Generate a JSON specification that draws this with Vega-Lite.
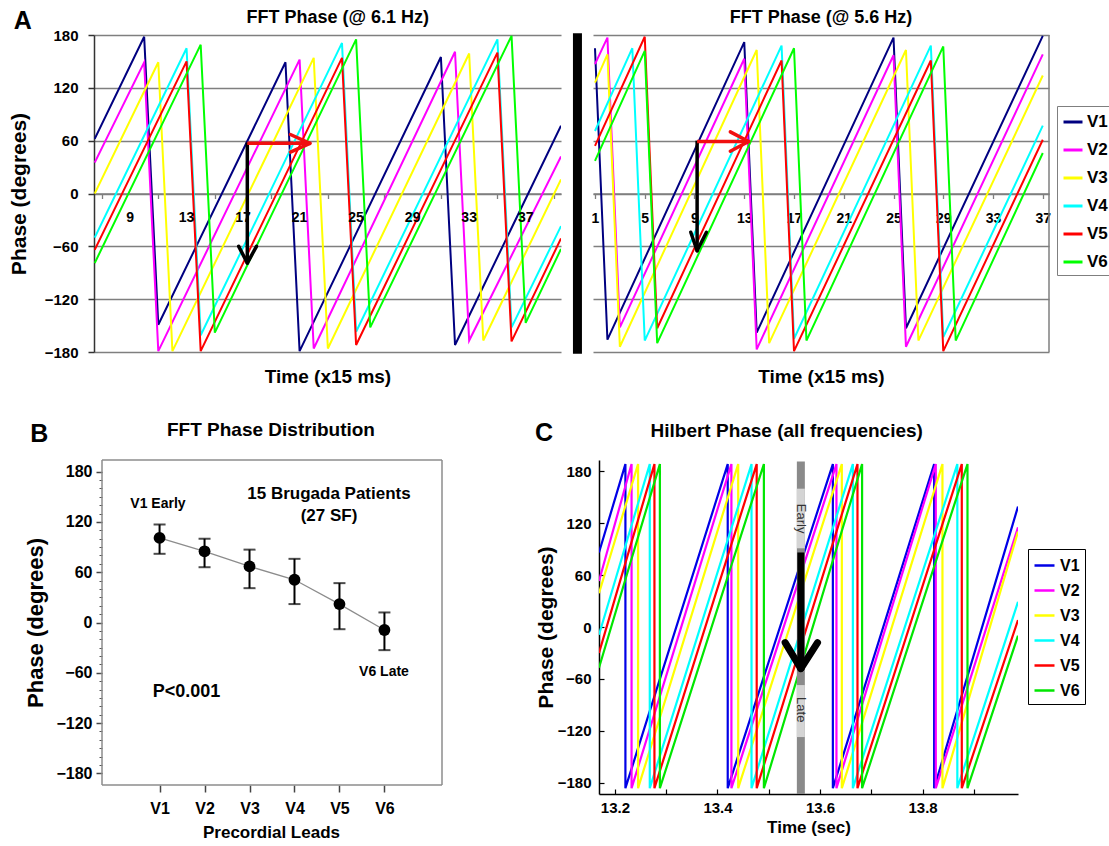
{
  "$schema": "https://vega.github.io/schema/vega-lite/v6.json",
  "background": "white",
  "padding": {"left": 8, "top": 8, "right": 0, "bottom": 0},
  "config": {
    "font": "Liberation Sans",
    "view": {"stroke": null},
    "axis": {"labelFont": "Liberation Sans", "titleFont": "Liberation Sans", "labelFontWeight": "bold", "titleFontWeight": "bold", "labelColor": "#000", "titleColor": "#000"},
    "legend": {"labelFont": "Liberation Sans", "labelFontWeight": "bold", "labelColor": "#000"},
    "text": {"font": "Liberation Sans", "fontWeight": "bold", "color": "#000"}
  },
  "datasets": {
    "fft61": [
      {"lead":"V1","t":6.5,"phase":62},{"lead":"V1","t":10,"phase":178},{"lead":"V1","t":11,"phase":-149},{"lead":"V1","t":20,"phase":149},{"lead":"V1","t":21,"phase":-179},{"lead":"V1","t":31,"phase":155},{"lead":"V1","t":32,"phase":-172},{"lead":"V1","t":39.5,"phase":77},
      {"lead":"V2","t":6.5,"phase":35},{"lead":"V2","t":10,"phase":149},{"lead":"V2","t":11,"phase":-179},{"lead":"V2","t":21,"phase":152},{"lead":"V2","t":22,"phase":-176},{"lead":"V2","t":32,"phase":161},{"lead":"V2","t":33,"phase":-167},{"lead":"V2","t":39.5,"phase":42},
      {"lead":"V3","t":6.5,"phase":0},{"lead":"V3","t":11,"phase":149},{"lead":"V3","t":12,"phase":-179},{"lead":"V3","t":22,"phase":154},{"lead":"V3","t":23,"phase":-176},{"lead":"V3","t":33,"phase":159},{"lead":"V3","t":34,"phase":-167},{"lead":"V3","t":39.5,"phase":16},
      {"lead":"V4","t":6.5,"phase":-50},{"lead":"V4","t":13,"phase":165},{"lead":"V4","t":14,"phase":-161},{"lead":"V4","t":24,"phase":171},{"lead":"V4","t":25,"phase":-157},{"lead":"V4","t":35,"phase":175},{"lead":"V4","t":36,"phase":-152},{"lead":"V4","t":39.5,"phase":-37},
      {"lead":"V5","t":6.5,"phase":-64},{"lead":"V5","t":13,"phase":150},{"lead":"V5","t":14,"phase":-179},{"lead":"V5","t":24,"phase":154},{"lead":"V5","t":25,"phase":-172},{"lead":"V5","t":35,"phase":160},{"lead":"V5","t":36,"phase":-168},{"lead":"V5","t":39.5,"phase":-51},
      {"lead":"V6","t":6.5,"phase":-79},{"lead":"V6","t":14,"phase":169},{"lead":"V6","t":15,"phase":-158},{"lead":"V6","t":25,"phase":175},{"lead":"V6","t":26,"phase":-152},{"lead":"V6","t":36,"phase":179},{"lead":"V6","t":37,"phase":-147},{"lead":"V6","t":39.5,"phase":-63}
    ],
    "ticks61": [{"t":9},{"t":13},{"t":17},{"t":21},{"t":25},{"t":29},{"t":33},{"t":37}],
    "fft56": [
      {"lead":"V1","t":1,"phase":165},{"lead":"V1","t":2,"phase":-166},{"lead":"V1","t":13,"phase":172},{"lead":"V1","t":14,"phase":-158},{"lead":"V1","t":25,"phase":177},{"lead":"V1","t":26,"phase":-153},{"lead":"V1","t":37,"phase":179},
      {"lead":"V2","t":1,"phase":147},{"lead":"V2","t":2,"phase":177},{"lead":"V2","t":3,"phase":-152},{"lead":"V2","t":13,"phase":153},{"lead":"V2","t":14,"phase":-177},{"lead":"V2","t":25,"phase":157},{"lead":"V2","t":26,"phase":-174},{"lead":"V2","t":37,"phase":158},
      {"lead":"V3","t":1,"phase":126},{"lead":"V3","t":2,"phase":158},{"lead":"V3","t":3,"phase":-174},{"lead":"V3","t":14,"phase":163},{"lead":"V3","t":15,"phase":-170},{"lead":"V3","t":26,"phase":163},{"lead":"V3","t":27,"phase":-167},{"lead":"V3","t":37,"phase":134},
      {"lead":"V4","t":1,"phase":71},{"lead":"V4","t":4,"phase":165},{"lead":"V4","t":5,"phase":-167},{"lead":"V4","t":16,"phase":168},{"lead":"V4","t":17,"phase":-165},{"lead":"V4","t":28,"phase":168},{"lead":"V4","t":29,"phase":-163},{"lead":"V4","t":37,"phase":77},
      {"lead":"V5","t":1,"phase":54},{"lead":"V5","t":5,"phase":178},{"lead":"V5","t":6,"phase":-153},{"lead":"V5","t":16,"phase":151},{"lead":"V5","t":17,"phase":-179},{"lead":"V5","t":28,"phase":151},{"lead":"V5","t":29,"phase":-179},{"lead":"V5","t":37,"phase":61},
      {"lead":"V6","t":1,"phase":37},{"lead":"V6","t":5,"phase":162},{"lead":"V6","t":6,"phase":-170},{"lead":"V6","t":17,"phase":165},{"lead":"V6","t":18,"phase":-167},{"lead":"V6","t":29,"phase":167},{"lead":"V6","t":30,"phase":-167},{"lead":"V6","t":37,"phase":46}
    ],
    "dist": [
      {"lead":"V1","idx":1,"mean":101,"lo":82,"hi":117},
      {"lead":"V2","idx":2,"mean":85,"lo":66,"hi":100},
      {"lead":"V3","idx":3,"mean":67,"lo":41,"hi":87},
      {"lead":"V4","idx":4,"mean":51,"lo":22,"hi":76},
      {"lead":"V5","idx":5,"mean":22,"lo":-8,"hi":47},
      {"lead":"V6","idx":6,"mean":-9,"lo":-33,"hi":12}
    ],
    "hilbert": [
      {"lead":"V1","i":1,"t":13.169,"phase":86},{"lead":"V1","i":2,"t":13.2205,"phase":188},{"lead":"V1","i":3,"t":13.2205,"phase":-186},{"lead":"V1","i":4,"t":13.42,"phase":188},{"lead":"V1","i":5,"t":13.42,"phase":-186},{"lead":"V1","i":6,"t":13.625,"phase":188},{"lead":"V1","i":7,"t":13.625,"phase":-186},{"lead":"V1","i":8,"t":13.8225,"phase":188},{"lead":"V1","i":9,"t":13.8225,"phase":-186},{"lead":"V1","i":10,"t":13.986,"phase":139},
      {"lead":"V2","i":1,"t":13.169,"phase":53},{"lead":"V2","i":2,"t":13.2325,"phase":188},{"lead":"V2","i":3,"t":13.2325,"phase":-186},{"lead":"V2","i":4,"t":13.4272,"phase":188},{"lead":"V2","i":5,"t":13.4272,"phase":-186},{"lead":"V2","i":6,"t":13.632,"phase":188},{"lead":"V2","i":7,"t":13.632,"phase":-186},{"lead":"V2","i":8,"t":13.8257,"phase":188},{"lead":"V2","i":9,"t":13.8257,"phase":-186},{"lead":"V2","i":10,"t":13.986,"phase":115},
      {"lead":"V3","i":1,"t":13.169,"phase":39},{"lead":"V3","i":2,"t":13.2452,"phase":188},{"lead":"V3","i":3,"t":13.2452,"phase":-186},{"lead":"V3","i":4,"t":13.4404,"phase":188},{"lead":"V3","i":5,"t":13.4404,"phase":-186},{"lead":"V3","i":6,"t":13.6425,"phase":188},{"lead":"V3","i":7,"t":13.6425,"phase":-186},{"lead":"V3","i":8,"t":13.8387,"phase":188},{"lead":"V3","i":9,"t":13.8387,"phase":-186},{"lead":"V3","i":10,"t":13.986,"phase":110},
      {"lead":"V4","i":1,"t":13.169,"phase":-9},{"lead":"V4","i":2,"t":13.268,"phase":188},{"lead":"V4","i":3,"t":13.268,"phase":-186},{"lead":"V4","i":4,"t":13.4664,"phase":188},{"lead":"V4","i":5,"t":13.4664,"phase":-186},{"lead":"V4","i":6,"t":13.664,"phase":188},{"lead":"V4","i":7,"t":13.664,"phase":-186},{"lead":"V4","i":8,"t":13.8677,"phase":188},{"lead":"V4","i":9,"t":13.8677,"phase":-186},{"lead":"V4","i":10,"t":13.986,"phase":29},
      {"lead":"V5","i":1,"t":13.169,"phase":-30},{"lead":"V5","i":2,"t":13.2771,"phase":188},{"lead":"V5","i":3,"t":13.2771,"phase":-186},{"lead":"V5","i":4,"t":13.4765,"phase":188},{"lead":"V5","i":5,"t":13.4765,"phase":-186},{"lead":"V5","i":6,"t":13.673,"phase":188},{"lead":"V5","i":7,"t":13.673,"phase":-186},{"lead":"V5","i":8,"t":13.8764,"phase":188},{"lead":"V5","i":9,"t":13.8764,"phase":-186},{"lead":"V5","i":10,"t":13.986,"phase":8},
      {"lead":"V6","i":1,"t":13.169,"phase":-47},{"lead":"V6","i":2,"t":13.2877,"phase":188},{"lead":"V6","i":3,"t":13.2877,"phase":-186},{"lead":"V6","i":4,"t":13.4905,"phase":188},{"lead":"V6","i":5,"t":13.4905,"phase":-186},{"lead":"V6","i":6,"t":13.682,"phase":188},{"lead":"V6","i":7,"t":13.682,"phase":-186},{"lead":"V6","i":8,"t":13.8875,"phase":188},{"lead":"V6","i":9,"t":13.8875,"phase":-186},{"lead":"V6","i":10,"t":13.986,"phase":-10}
    ]
  },
  "spacing": 33,
  "resolve": {"scale": {"color": "independent"}, "legend": {"color": "independent"}},
  "vconcat": [
    {
      "spacing": 11,
      "resolve": {"scale": {"color": "independent"}, "legend": {"color": "independent"}},
      "hconcat": [
        {
          "width": 467, "height": 317,
          "layer": [
            {
              "data": {"name": "fft61"},
              "mark": {"type": "line", "strokeWidth": 2, "clip": true},
              "encoding": {
                "x": {"field": "t", "type": "quantitative",
                  "scale": {"domain": [6.45, 39.5], "nice": false, "zero": false},
                  "axis": {"orient": "bottom", "values": [7,8,9,10,11,12,13,14,15,16,17,18,19,20,21,22,23,24,25,26,27,28,29,30,31,32,33,34,35,36,37,38,39],
                    "offset": -158.5, "tickSize": 5, "tickColor": "#7f7f7f", "tickWidth": 1.3,
                    "domainColor": "#7f7f7f", "domainWidth": 1.5, "labels": false,
                    "title": "Time (x15 ms)", "titleFontSize": 19, "titleY": 183, "titleBaseline": "middle", "grid": false}},
                "y": {"field": "phase", "type": "quantitative",
                  "scale": {"domain": [-180, 180], "nice": false, "zero": false},
                  "axis": {"values": [-180,-120,-60,0,60,120,180], "grid": true, "gridColor": "#7f7f7f", "gridWidth": 1.3,
                    "domainColor": "#333", "domainWidth": 1.5, "tickColor": "#333", "tickSize": 6, "tickWidth": 1.5,
                    "labelFontSize": 15, "labelPadding": 10, "title": "Phase (degrees)", "titleFontSize": 21, "titlePadding": 15}},
                "color": {"field": "lead", "type": "nominal",
                  "scale": {"domain": ["V1","V2","V3","V4","V5","V6"], "range": ["#000080","#ff00ff","#ffff00","#00ffff","#ff0000","#00ff00"]},
                  "legend": null}
              }
            },
            {"data": {"name": "ticks61"}, "mark": {"type": "text", "fontSize": 14, "dy": 24},
             "encoding": {"x": {"field": "t", "type": "quantitative"}, "y": {"datum": 0}, "text": {"field": "t", "type": "quantitative", "format": "d"}}},
            {"data": {"values": [{}]}, "mark": {"type": "rule", "color": "#000", "strokeWidth": 3.5},
             "encoding": {"x": {"datum": 17.3}, "y": {"datum": 58}, "y2": {"datum": -77}}},
            {"data": {"values": [{}]}, "mark": {"type": "rule", "color": "#000", "strokeWidth": 3.5, "strokeCap": "round"},
             "encoding": {"x": {"datum": 16.69}, "y": {"datum": -60}, "x2": {"datum": 17.3}, "y2": {"datum": -79}}},
            {"data": {"values": [{}]}, "mark": {"type": "rule", "color": "#000", "strokeWidth": 3.5, "strokeCap": "round"},
             "encoding": {"x": {"datum": 17.95}, "y": {"datum": -60}, "x2": {"datum": 17.3}, "y2": {"datum": -79}}},
            {"data": {"values": [{}]}, "mark": {"type": "rule", "color": "#f01010", "strokeWidth": 3.5},
             "encoding": {"x": {"datum": 17.3}, "y": {"datum": 57}, "x2": {"datum": 21.6}, "y2": {"datum": 57}}},
            {"data": {"values": [{}]}, "mark": {"type": "rule", "color": "#f01010", "strokeWidth": 3.5, "strokeCap": "round"},
             "encoding": {"x": {"datum": 20.35}, "y": {"datum": 67}, "x2": {"datum": 21.73}, "y2": {"datum": 57}}},
            {"data": {"values": [{}]}, "mark": {"type": "rule", "color": "#f01010", "strokeWidth": 3.5, "strokeCap": "round"},
             "encoding": {"x": {"datum": 20.35}, "y": {"datum": 47}, "x2": {"datum": 21.73}, "y2": {"datum": 57}}},
            {"data": {"values": [{}]}, "mark": {"type": "text", "text": "FFT Phase (@ 6.1 Hz)", "fontSize": 18},
             "encoding": {"x": {"datum": 23.7}, "y": {"datum": 199}}},
            {"data": {"values": [{}]}, "mark": {"type": "text", "text": "A", "fontSize": 25},
             "encoding": {"x": {"datum": 1.41}, "y": {"datum": 196}}}
          ]
        },
        {
          "width": 456, "height": 317,
          "layer": [
            {
              "data": {"name": "fft56"},
              "mark": {"type": "line", "strokeWidth": 2, "clip": true},
              "encoding": {
                "x": {"field": "t", "type": "quantitative",
                  "scale": {"domain": [0.84, 37.5], "nice": false, "zero": false},
                  "axis": {"orient": "bottom", "values": [1,2,3,4,5,6,7,8,9,10,11,12,13,14,15,16,17,18,19,20,21,22,23,24,25,26,27,28,29,30,31,32,33,34,35,36,37],
                    "offset": -158.5, "tickSize": 5, "tickColor": "#7f7f7f", "tickWidth": 1.3,
                    "domainColor": "#7f7f7f", "domainWidth": 1.5,
                    "labelExpr": "indexof([1,5,9,13,17,21,25,29,33,37], datum.value) >= 0 ? datum.label : ''",
                    "labelFontSize": 14, "labelColor": "#000", "labelPadding": 13, "labelOverlap": false, "labelFlush": false,
                    "title": "Time (x15 ms)", "titleFontSize": 19, "titleY": 183, "titleBaseline": "middle", "grid": false}},
                "y": {"field": "phase", "type": "quantitative",
                  "scale": {"domain": [-180, 180], "nice": false, "zero": false},
                  "axis": {"values": [-180,-120,-60,0,60,120,180], "grid": true, "gridColor": "#7f7f7f", "gridWidth": 1.3,
                    "domain": false, "ticks": false, "labels": false, "title": null}},
                "color": {"field": "lead", "type": "nominal", "title": null,
                  "scale": {"domain": ["V1","V2","V3","V4","V5","V6"], "range": ["#000080","#ff00ff","#ffff00","#00ffff","#ff0000","#00ff00"]},
                  "legend": {"orient": "none", "legendX": 464, "legendY": 71, "title": null, "labelFontSize": 17,
                    "symbolType": "stroke", "symbolStrokeWidth": 3, "symbolSize": 361, "strokeColor": "#7f7f7f",
                    "fillColor": "white", "padding": 5, "rowPadding": 9, "labelOffset": 3}}
              }
            },
            {"data": {"values": [{}]}, "mark": {"type": "rule", "color": "#000", "strokeWidth": 9},
             "encoding": {"x": {"datum": -0.41}, "y": {"datum": 182}, "y2": {"datum": -182}}},
            {"data": {"values": [{}]}, "mark": {"type": "rule", "color": "#7f7f7f", "strokeWidth": 1.5},
             "encoding": {"x": {"datum": 37.5}, "y": {"datum": 180}, "y2": {"datum": -180}}},
            {"data": {"values": [{}]}, "mark": {"type": "rule", "color": "#000", "strokeWidth": 3.5},
             "encoding": {"x": {"datum": 9.21}, "y": {"datum": 60}, "y2": {"datum": -63}}},
            {"data": {"values": [{}]}, "mark": {"type": "rule", "color": "#000", "strokeWidth": 3.5, "strokeCap": "round"},
             "encoding": {"x": {"datum": 8.7}, "y": {"datum": -44}, "x2": {"datum": 9.21}, "y2": {"datum": -65}}},
            {"data": {"values": [{}]}, "mark": {"type": "rule", "color": "#000", "strokeWidth": 3.5, "strokeCap": "round"},
             "encoding": {"x": {"datum": 9.96}, "y": {"datum": -44}, "x2": {"datum": 9.21}, "y2": {"datum": -65}}},
            {"data": {"values": [{}]}, "mark": {"type": "rule", "color": "#f01010", "strokeWidth": 3.5},
             "encoding": {"x": {"datum": 9.21}, "y": {"datum": 59}, "x2": {"datum": 13.2}, "y2": {"datum": 59}}},
            {"data": {"values": [{}]}, "mark": {"type": "rule", "color": "#f01010", "strokeWidth": 3.5, "strokeCap": "round"},
             "encoding": {"x": {"datum": 11.88}, "y": {"datum": 70}, "x2": {"datum": 13.35}, "y2": {"datum": 59}}},
            {"data": {"values": [{}]}, "mark": {"type": "rule", "color": "#f01010", "strokeWidth": 3.5, "strokeCap": "round"},
             "encoding": {"x": {"datum": 11.88}, "y": {"datum": 48}, "x2": {"datum": 13.35}, "y2": {"datum": 59}}},
            {"data": {"values": [{}]}, "mark": {"type": "text", "text": "FFT Phase (@ 5.6 Hz)", "fontSize": 18},
             "encoding": {"x": {"datum": 19.17}, "y": {"datum": 199}}}
          ]
        }
      ]
    },
    {
      "spacing": 91,
      "resolve": {"scale": {"color": "independent"}, "legend": {"color": "independent"}},
      "hconcat": [
        {
          "width": 348, "height": 325,
          "resolve": {"axis": {"y": "independent"}},
          "layer": [
            {
              "layer": [
                {
                  "data": {"name": "dist"},
                  "mark": {"type": "line", "color": "#8c8c8c", "strokeWidth": 1.3},
                  "encoding": {
                    "x": {"field": "idx", "type": "quantitative",
                      "scale": {"domain": [-0.458, 7.28], "nice": false, "zero": false},
                      "axis": {"values": [1,2,3,4,5,6], "labelExpr": "'V' + datum.value", "domain": false,
                        "tickSize": 7, "tickColor": "#444", "tickWidth": 1.5, "labelFontSize": 16, "labelPadding": 8,
                        "title": "Precordial Leads", "titleFontSize": 17, "titlePadding": 8, "titleX": 177, "grid": false}},
                    "y": {"field": "mean", "type": "quantitative", "title": "Phase (degrees)",
                      "scale": {"domain": [-194, 194], "nice": false, "zero": false},
                      "axis": {"values": [-180,-120,-60,0,60,120,180], "offset": -8, "domain": false, "tickSize": 6, "tickColor": "#444", "tickWidth": 1.5,
                        "labelFontSize": 16, "labelPadding": 4, "title": "Phase (degrees)", "titleFontSize": 22, "titlePadding": 8, "grid": false}}
                  }
                },
                {"data": {"values": [{}]}, "mark": {"type": "rule", "color": "#8c8c8c", "strokeWidth": 1.5},
                 "encoding": {"x": {"datum": -0.28}, "y": {"datum": 194}, "y2": {"datum": -194}}},
                {"data": {"values": [{}]}, "mark": {"type": "rule", "color": "#8c8c8c", "strokeWidth": 1.5},
                 "encoding": {"x": {"datum": 7.28}, "y": {"datum": 194}, "y2": {"datum": -194}}},
                {"data": {"values": [{}]}, "mark": {"type": "rule", "color": "#8c8c8c", "strokeWidth": 1.5},
                 "encoding": {"x": {"datum": -0.28}, "x2": {"datum": 7.28}, "y": {"datum": 194}, "y2": {"datum": 194}}},
                {"data": {"values": [{}]}, "mark": {"type": "rule", "color": "#8c8c8c", "strokeWidth": 1.5},
                 "encoding": {"x": {"datum": -0.28}, "x2": {"datum": 7.28}, "y": {"datum": -194}, "y2": {"datum": -194}}},
                {
                  "data": {"name": "dist"},
                  "mark": {"type": "errorbar", "color": "#000", "thickness": 2, "ticks": {"size": 12}},
                  "encoding": {
                    "x": {"field": "idx", "type": "quantitative"},
                    "y": {"field": "lo", "type": "quantitative", "title": "Phase (degrees)"},
                    "y2": {"field": "hi"}
                  }
                },
                {
                  "data": {"name": "dist"},
                  "mark": {"type": "circle", "color": "#000", "size": 140, "opacity": 1},
                  "encoding": {
                    "x": {"field": "idx", "type": "quantitative"},
                    "y": {"field": "mean", "type": "quantitative", "title": "Phase (degrees)"}
                  }
                },
                {"data": {"values": [{}]}, "mark": {"type": "text", "text": "B", "fontSize": 25},
                 "encoding": {"x": {"datum": -1.675}, "y": {"datum": 225.6}}},
                {"data": {"values": [{}]}, "mark": {"type": "text", "text": "FFT Phase Distribution", "fontSize": 19},
                 "encoding": {"x": {"datum": 3.477}, "y": {"datum": 229.8}}},
                {"data": {"values": [{}]}, "mark": {"type": "text", "text": "V1 Early", "fontSize": 14},
                 "encoding": {"x": {"datum": 0.964}, "y": {"datum": 141.5}}},
                {"data": {"values": [{}]}, "mark": {"type": "text", "text": "15 Brugada Patients", "fontSize": 17},
                 "encoding": {"x": {"datum": 4.767}, "y": {"datum": 153.4}}},
                {"data": {"values": [{}]}, "mark": {"type": "text", "text": "(27 SF)", "fontSize": 17},
                 "encoding": {"x": {"datum": 4.767}, "y": {"datum": 127.2}}},
                {"data": {"values": [{}]}, "mark": {"type": "text", "text": "P<0.001", "fontSize": 18},
                 "encoding": {"x": {"datum": 1.598}, "y": {"datum": -83}}},
                {"data": {"values": [{}]}, "mark": {"type": "text", "text": "V6 Late", "fontSize": 14},
                 "encoding": {"x": {"datum": 5.99}, "y": {"datum": -59}}}
              ]
            },
            {
              "data": {"name": "dist"},
              "mark": {"type": "tick", "opacity": 0},
              "encoding": {
                "y": {"field": "mean", "type": "quantitative",
                  "scale": {"domain": [-194, 194], "nice": false, "zero": false},
                  "axis": {"orient": "left", "offset": -8, "values": [-180,-170,-160,-150,-140,-130,-120,-110,-100,-90,-80,-70,-60,-50,-40,-30,-20,-10,0,10,20,30,40,50,60,70,80,90,100,110,120,130,140,150,160,170,180],
                    "domain": false, "labels": false, "tickSize": 3, "tickColor": "#555", "tickWidth": 1, "title": null, "grid": false}}
              }
            }
          ]
        },
        {
          "width": 419, "height": 334,
          "layer": [
            {
              "data": {"name": "hilbert"},
              "mark": {"type": "line", "strokeWidth": 2.2, "clip": true},
              "encoding": {
                "x": {"field": "t", "type": "quantitative",
                  "scale": {"domain": [13.169, 13.986], "nice": false, "zero": false},
                  "axis": {"values": [13.2,13.3,13.4,13.5,13.6,13.7,13.8,13.9],
                    "labelExpr": "round(datum.value * 10) % 2 == 0 ? format(datum.value, '.1f') : ''",
                    "tickSize": -5, "tickColor": "#000", "tickWidth": 1.2, "domainColor": "#000", "domainWidth": 1.5,
                    "labelFontSize": 15, "labelPadding": 11, "labelOverlap": false, "labelFlush": false,
                    "title": "Time (sec)", "titleFontSize": 17, "titlePadding": 4, "grid": false}},
                "y": {"field": "phase", "type": "quantitative",
                  "scale": {"domain": [-192.7, 192.7], "nice": false, "zero": false},
                  "axis": {"values": [-180,-120,-60,0,60,120,180], "tickSize": -5, "tickColor": "#000", "tickWidth": 1.2,
                    "domainColor": "#000", "domainWidth": 1.5, "labelFontSize": 15, "labelPadding": 13,
                    "title": "Phase (degrees)", "titleFontSize": 21, "titlePadding": 1, "grid": false}},
                "color": {"field": "lead", "type": "nominal", "title": null,
                  "scale": {"domain": ["V1","V2","V3","V4","V5","V6"], "range": ["#0000e6","#ff00ff","#ffff00","#00ffff","#ff0000","#00e600"]},
                  "legend": {"orient": "none", "legendX": 429, "legendY": 89, "title": null, "labelFontSize": 16,
                    "symbolType": "stroke", "symbolStrokeWidth": 2.5, "symbolSize": 400, "strokeColor": "#000",
                    "fillColor": "white", "padding": 5, "rowPadding": 5, "labelOffset": 4}},
                "order": {"field": "i", "type": "quantitative"}
              }
            },
            {"data": {"values": [{}]}, "mark": {"type": "rule", "color": "#8a8a8a", "strokeWidth": 8},
             "encoding": {"x": {"datum": 13.5626}, "y": {"datum": 191}, "y2": {"datum": -192.7}}},
            {"data": {"values": [{}]}, "mark": {"type": "rule", "color": "#d4d4d4", "strokeWidth": 8},
             "encoding": {"x": {"datum": 13.5626}, "y": {"datum": 159.6}, "y2": {"datum": 90.8}}},
            {"data": {"values": [{}]}, "mark": {"type": "rule", "color": "#d4d4d4", "strokeWidth": 8},
             "encoding": {"x": {"datum": 13.5626}, "y": {"datum": -67}, "y2": {"datum": -127}}},
            {"data": {"values": [{}]}, "mark": {"type": "text", "text": "Early", "fontSize": 13, "fontWeight": "normal", "angle": 90, "color": "#333"},
             "encoding": {"x": {"datum": 13.5626}, "y": {"datum": 125}}},
            {"data": {"values": [{}]}, "mark": {"type": "text", "text": "Late", "fontSize": 13, "fontWeight": "normal", "angle": 90, "color": "#333"},
             "encoding": {"x": {"datum": 13.5626}, "y": {"datum": -95.5}}},
            {"data": {"values": [{}]}, "mark": {"type": "rule", "color": "#000", "strokeWidth": 7},
             "encoding": {"x": {"datum": 13.5626}, "y": {"datum": 86}, "y2": {"datum": -42}}},
            {"data": {"values": [{}]}, "mark": {"type": "rule", "color": "#000", "strokeWidth": 7, "strokeCap": "round"},
             "encoding": {"x": {"datum": 13.532}, "y": {"datum": -18}, "x2": {"datum": 13.5626}, "y2": {"datum": -48}}},
            {"data": {"values": [{}]}, "mark": {"type": "rule", "color": "#000", "strokeWidth": 7, "strokeCap": "round"},
             "encoding": {"x": {"datum": 13.5951}, "y": {"datum": -18}, "x2": {"datum": 13.5626}, "y2": {"datum": -48}}},
            {"data": {"values": [{}]}, "mark": {"type": "text", "text": "Hilbert Phase (all frequencies)", "fontSize": 19},
             "encoding": {"x": {"datum": 13.535}, "y": {"datum": 225.7}}},
            {"data": {"values": [{}]}, "mark": {"type": "text", "text": "C", "fontSize": 25},
             "encoding": {"x": {"datum": 13.0617}, "y": {"datum": 224}}}
          ]
        }
      ]
    }
  ]
}
